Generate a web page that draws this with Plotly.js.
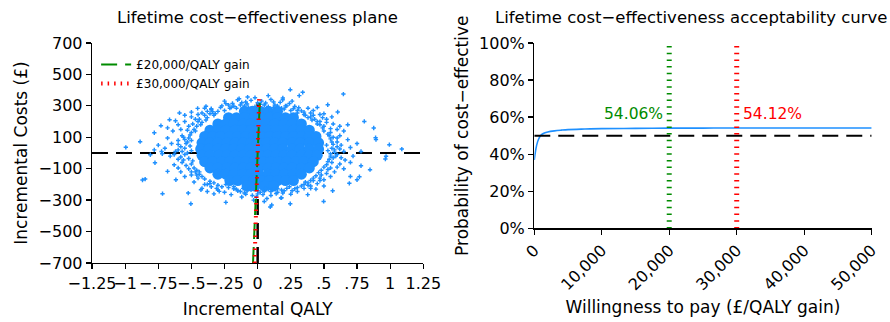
<!DOCTYPE html>
<html><head><meta charset="utf-8">
<script src="https://cdn.plot.ly/plotly-3.0.1.min.js"></script>
<style>html,body{margin:0;padding:0;background:#fff}#chart{width:890px;height:322px}</style>
</head><body><div id="chart"></div>
<script>
// ---- Cost-effectiveness plane: dense core of simulations (rows of cost, QALY values)
const coreCostLevels = [265, 225, 185, 145, 105, 65, 25, -15, -55, -95, -135, -175, -210];
const coreQalyByLevel = [
  [-0.10,-0.04,0.02,0.08,0.15],
  [-0.22,-0.16,-0.10,-0.03,0.03,0.09,0.15,0.21,0.27],
  [-0.30,-0.24,-0.18,-0.11,-0.05,0.01,0.07,0.13,0.20,0.26,0.33],
  [-0.36,-0.30,-0.24,-0.17,-0.11,-0.05,0.02,0.08,0.14,0.21,0.27,0.33,0.39],
  [-0.40,-0.34,-0.28,-0.21,-0.15,-0.09,-0.03,0.03,0.09,0.15,0.21,0.27,0.33,0.39,0.44],
  [-0.42,-0.36,-0.30,-0.23,-0.17,-0.11,-0.05,0.01,0.07,0.13,0.19,0.26,0.32,0.39,0.46],
  [-0.43,-0.37,-0.30,-0.24,-0.18,-0.12,-0.06,0.01,0.07,0.13,0.19,0.26,0.32,0.39,0.46],
  [-0.42,-0.36,-0.29,-0.23,-0.17,-0.11,-0.05,0.02,0.08,0.14,0.20,0.26,0.33,0.39,0.45],
  [-0.40,-0.34,-0.27,-0.21,-0.15,-0.09,-0.03,0.04,0.10,0.16,0.22,0.29,0.35,0.42],
  [-0.36,-0.30,-0.23,-0.17,-0.11,-0.05,0.01,0.08,0.14,0.20,0.26,0.33,0.39],
  [-0.30,-0.24,-0.18,-0.11,-0.05,0.01,0.08,0.14,0.20,0.27,0.33],
  [-0.21,-0.15,-0.09,-0.03,0.03,0.09,0.15,0.21,0.27],
  [-0.08,-0.02,0.05,0.12]
];
// ---- scattered simulations around the core: [incremental QALY, incremental cost]
const spreadPoints = [
  [-0.995,36],[-0.887,72],[-0.849,-166],[-0.869,-172],[-0.718,-259],[-0.504,-323],[-0.73,174],[-0.665,212],
  [-0.78,129],[-0.775,-62],[-0.81,-11],[-0.59,255],[-0.453,284],[-0.39,297],[-0.076,356],[-0.151,339],
  [-0.24,314],[-0.24,-314],[-0.29,-244],[-0.428,-234],[-0.524,-255],[-0.617,-170],[-0.725,10],[-0.68,-117],
  [0.246,403],[0.34,386],[0.314,365],[0.647,375],[0.189,339],[0.529,307],[0.604,261],[0.68,180],
  [0.805,201],[0.876,159],[0.893,85],[0.994,53],[1.088,25],[0.964,-38],[0.848,-106],[0.78,-81],
  [0.75,-170],[0.70,-149],[0.566,-240],[0.498,-308],[0.378,-265],[0.246,-323],[0.176,-286],[0.095,-343],
  [0.05,-308],[0.768,-151],[0.692,-193],[0.106,-331],[0.89,97],[0.969,-21],
  [-0.28,290],[-0.22,305],[-0.18,298],[-0.12,320],[-0.08,312],[-0.05,335],[0.03,330],[0.06,318],
  [0.10,340],[0.13,305],[0.17,322],[0.21,300],[0.24,315],[0.28,296],[-0.35,282],[-0.02,352],
  [0.08,365],[-0.14,345],[0.19,350],[0.31,288],[-0.25,330],
  [-0.42,255],[-0.50,230],[-0.38,265],[-0.55,200],[-0.47,215],[-0.60,180],[-0.52,170],[-0.58,150],
  [-0.64,140],[-0.45,245],[-0.35,275],[-0.62,205],[-0.55,240],[-0.68,160],[-0.50,260],[-0.40,285],
  [-0.56,100],[-0.60,80],[-0.65,60],[-0.58,40],[-0.70,30],[-0.62,10],[-0.55,-10],[-0.66,-20],
  [-0.60,-40],[-0.72,-5],[-0.75,50],[-0.53,70],[-0.68,95],[-0.57,-60],[-0.63,-75],[-0.78,20],
  [-0.52,-100],[-0.58,-120],[-0.50,-140],[-0.45,-160],[-0.55,-150],[-0.48,-185],[-0.40,-200],[-0.35,-215],
  [-0.42,-225],[-0.30,-235],[-0.25,-250],[-0.38,-245],[-0.60,-95],[-0.47,-120],[-0.33,-260],[-0.20,-265],
  [-0.15,-240],[-0.10,-255],[-0.05,-235],[0.00,-260],[0.05,-245],[0.10,-270],[0.15,-250],[0.20,-240],
  [0.25,-262],[-0.12,-280],[0.07,-290],[0.18,-285],[-0.03,-300],[0.12,-230],[-0.18,-228],[0.30,-245],
  [0.35,-225],[0.40,-210],[0.45,-195],[0.38,-190],[0.50,-170],[0.55,-150],[0.48,-140],[0.58,-120],
  [0.53,-105],[0.60,-90],[0.62,-70],[0.56,-60],[0.44,-230],[0.50,-210],[0.65,-100],[0.42,-175],
  [0.57,-30],[0.60,-10],[0.65,10],[0.58,20],[0.70,35],[0.63,50],[0.60,70],[0.68,85],
  [0.72,-20],[0.75,60],[0.57,100],[0.66,-45],[0.78,10],[0.62,110],[0.70,-60],
  [0.55,130],[0.60,150],[0.50,170],[0.57,185],[0.45,200],[0.52,215],[0.40,230],[0.47,245],
  [0.35,260],[0.42,270],[0.38,285],[0.62,170],[0.50,250],[0.56,230],[0.65,140],[0.45,290],
  [-0.20,290],[-0.10,300],[-0.02,295],[0.05,305],[0.12,290],[0.18,285],[0.25,270],[-0.25,270],
  [-0.16,285],[0.09,280],[0.00,320],[0.30,255],[-0.32,250],[0.22,300],
  [-0.38,225],[-0.42,195],[-0.46,170],[-0.50,130],[0.36,240],[0.41,210],[0.45,185],[0.49,160],
  [0.53,120],[-0.44,215],[0.40,255],[-0.36,250],[0.47,200],[-0.48,150],
  [-0.52,95],[-0.54,60],[-0.55,30],[-0.53,0],[-0.52,-35],[-0.50,-70],[0.55,90],[0.57,55],
  [0.56,30],[0.55,-5],[0.54,-40],[0.52,-75],[-0.57,110],[0.60,40],[-0.60,20],[0.59,-20],[-0.58,-25],
  [-0.46,-110],[-0.42,-150],[-0.36,-180],[-0.30,-205],[0.48,-110],[0.44,-145],[0.40,-175],[0.35,-200],
  [0.30,-220],[-0.44,-135],[0.47,-160],[-0.38,-200],
  [-0.22,-220],[-0.16,-232],[-0.08,-240],[0.00,-238],[0.08,-232],[0.15,-228],[0.22,-225],[-0.04,-270],
  [0.04,-265],[0.14,-258],[-0.11,-225],[0.26,-240],
  [-0.27,300],[-0.21,285],[-0.13,305],[-0.07,290],[0.02,310],[0.08,295],[0.15,300],[0.20,280],
  [0.27,282],[-0.30,265],[0.33,268],[-0.09,325],[0.12,325],[0.26,330],[-0.19,315],
  [-0.33,240],[-0.40,240],[-0.45,200],[-0.43,180],[-0.49,185],[-0.47,140],[-0.53,145],[-0.39,210],
  [-0.34,262],[-0.51,115],
  [-0.50,80],[-0.55,85],[-0.51,45],[-0.57,10],[-0.50,15],[-0.56,-45],[-0.49,-50],[-0.54,-80],
  [-0.60,55],[-0.63,-10],
  [-0.48,-95],[-0.44,-120],[-0.40,-165],[-0.33,-190],[-0.27,-215],[-0.24,-200],[-0.46,-140],[-0.36,-195],
  [-0.50,-120],[-0.31,-225],
  [-0.18,-215],[-0.13,-245],[-0.06,-225],[0.02,-250],[0.10,-245],[0.18,-235],[0.24,-215],[0.28,-228],
  [-0.09,-262],[0.06,-225],[0.19,-255],[-0.01,-280],
  [0.33,-210],[0.38,-205],[0.42,-160],[0.46,-125],[0.50,-90],[0.52,-130],[0.47,-175],[0.36,-185],
  [0.55,-95],[0.40,-225],
  [0.53,-55],[0.55,-20],[0.58,5],[0.53,15],[0.56,70],[0.52,50],[0.60,95],[0.63,-30],
  [0.62,25],[0.54,110],
  [0.50,140],[0.47,180],[0.43,215],[0.38,225],[0.35,245],[0.30,270],[0.52,195],[0.55,155],
  [0.42,240],[0.49,225]
];
// ---- thresholds
const thresholds = [20000, 30000];
const thresholdNames = ['£20,000/QALY gain', '£30,000/QALY gain'];
const thresholdProbLabels = ['54.06%', '54.12%'];
const thresholdLabelY = [0.615, 0.615];
const thresholdCostSpan = [-700, 360];
// ---- acceptability curve
const wtpGrid = [0,250,500,750,1000,1500,2000,3000,4000,5000,7500,10000,15000,20000,25000,30000,40000,50000];
const probCE  = [0.369,0.43,0.468,0.49,0.503,0.514,0.520,0.526,0.530,0.533,0.536,0.538,0.5395,0.5406,0.541,0.5412,0.5415,0.5418];
// ---- axes
const qalyRange = [-1.25, 1.25];
const costRange = [-700, 700];
const qalyTicks = [-1.25,-1,-0.75,-0.5,-0.25,0,0.25,0.5,0.75,1,1.25];
const qalyTickText = ['−1.25','−1','−.75','−.5','−.25','0','.25','.5','.75','1','1.25'];
const costTicks = [-700,-500,-300,-100,100,300,500,700];
const costTickText = ['−700','−500','−300','−100','100','300','500','700'];
const wtpRange = [0, 50000];
const wtpTicks = [0,10000,20000,30000,40000,50000];
const wtpTickText = ['0','10,000','20,000','30,000','40,000','50,000'];
const probTicks = [0,0.2,0.4,0.6,0.8,1];
const probTickText = ['0%','20%','40%','60%','80%','100%'];
const ceThreshold = 0.5;

const BLUE = '#1E90FF', GREEN = '#008B00', RED = '#FF0000';

const coreX = [], coreY = [];
coreCostLevels.forEach((c, i) => coreQalyByLevel[i].forEach(q => { coreX.push(q); coreY.push(c); }));

const traces = [
  {x: qalyRange, y: [0, 0], xaxis:'x', yaxis:'y', mode:'lines', showlegend:false,
   line:{color:'#000', width:2, dash:'16px,8px'}},
  {x: [0, 0], y: thresholdCostSpan, xaxis:'x', yaxis:'y', mode:'lines', showlegend:false,
   line:{color:'#000', width:2.5, dash:'16px,8px'}},
  {x: coreX, y: coreY, xaxis:'x', yaxis:'y', mode:'markers', showlegend:false,
   marker:{color:BLUE, size:11, line:{width:0}}},
  {x: spreadPoints.map(p => p[0]), y: spreadPoints.map(p => p[1]), xaxis:'x', yaxis:'y', mode:'markers', showlegend:false,
   marker:{color:BLUE, size:3.6, symbol:'cross', line:{width:0}}},
  {x: thresholdCostSpan.map(c => c / thresholds[0]), y: thresholdCostSpan, xaxis:'x', yaxis:'y', mode:'lines',
   name: thresholdNames[0], line:{color:GREEN, width:2, dash:'16px,8px'}},
  {x: thresholdCostSpan.map(c => c / thresholds[1]), y: thresholdCostSpan, xaxis:'x', yaxis:'y', mode:'lines',
   name: thresholdNames[1], line:{color:RED, width:4, dash:'1.5px,5px'}},
  // right panel
  {x: wtpGrid, y: probCE, xaxis:'x2', yaxis:'y2', mode:'lines', showlegend:false,
   line:{color:BLUE, width:1.6, shape:'spline', smoothing:1}},
  {x: wtpRange, y: [ceThreshold, ceThreshold], xaxis:'x2', yaxis:'y2', mode:'lines', showlegend:false,
   line:{color:'#000', width:2, dash:'16px,8px'}},
  {x: [thresholds[0], thresholds[0]], y: [0, 1], xaxis:'x2', yaxis:'y2', mode:'lines', showlegend:false,
   line:{color:GREEN, width:5, dash:'1.5px,5.2px'}},
  {x: [thresholds[1], thresholds[1]], y: [0, 1], xaxis:'x2', yaxis:'y2', mode:'lines', showlegend:false,
   line:{color:RED, width:5, dash:'1.5px,5.2px'}}
];

const axisCommon = {showline:true, linecolor:'#000', linewidth:1.3, ticks:'outside', ticklen:5, tickwidth:1.3,
  tickcolor:'#000', showgrid:false, zeroline:false, tickfont:{size:16, color:'#000'}, fixedrange:true};

const layout = {
  width:890, height:322, margin:{l:0, r:0, t:0, b:0}, paper_bgcolor:'#fff', plot_bgcolor:'#fff',
  hovermode:false, font:{family:'DejaVu Sans, sans-serif', size:16, color:'#000'},
  showlegend:true,
  legend:{x:0.108, y:0.845, xanchor:'left', yanchor:'top', bgcolor:'rgba(0,0,0,0)', font:{size:12}, tracegroupgap:0},
  xaxis:Object.assign({}, axisCommon, {domain:[0.1034,0.4756], range:qalyRange, tickvals:qalyTicks, ticktext:qalyTickText,
    tickangle:0, anchor:'y', title:{text:'Incremental QALY', font:{size:17}, standoff:11}}),
  yaxis:Object.assign({}, axisCommon, {domain:[0.1832,0.8665], range:costRange, tickvals:costTicks, ticktext:costTickText,
    anchor:'x', title:{text:'Incremental Costs (£)', font:{size:17}, standoff:6}}),
  xaxis2:Object.assign({}, axisCommon, {domain:[0.6003,0.9794], range:wtpRange, tickvals:wtpTicks, ticktext:wtpTickText,
    tickangle:-45, anchor:'y2', title:{text:'Willingness to pay (£/QALY gain)', font:{size:17}, standoff:8}}),
  yaxis2:Object.assign({}, axisCommon, {domain:[0.2907,0.8665], range:[0,1], tickvals:probTicks, ticktext:probTickText,
    anchor:'x2', title:{text:'Probability of cost−effective', font:{size:17}, standoff:6}}),
  annotations:[
    {text:'Lifetime cost−effectiveness plane', xref:'paper', yref:'paper', x:257/890, y:(322-17)/322,
     xanchor:'center', yanchor:'middle', showarrow:false, font:{size:16.5}},
    {text:'Lifetime cost−effectiveness acceptability curve', xref:'paper', yref:'paper', x:691/890, y:(322-17)/322,
     xanchor:'center', yanchor:'middle', showarrow:false, font:{size:16.5}},
    {text:thresholdProbLabels[0], xref:'x2', yref:'y2', x:thresholds[0], y:thresholdLabelY[0], xanchor:'right', yanchor:'middle',
     xshift:-4, showarrow:false, font:{size:15.5, color:GREEN}},
    {text:thresholdProbLabels[1], xref:'x2', yref:'y2', x:thresholds[1], y:thresholdLabelY[1], xanchor:'left', yanchor:'middle',
     xshift:4, showarrow:false, font:{size:15.5, color:RED}}
  ]
};

Plotly.newPlot('chart', traces, layout, {staticPlot:true, displayModeBar:false});
</script></body></html>
